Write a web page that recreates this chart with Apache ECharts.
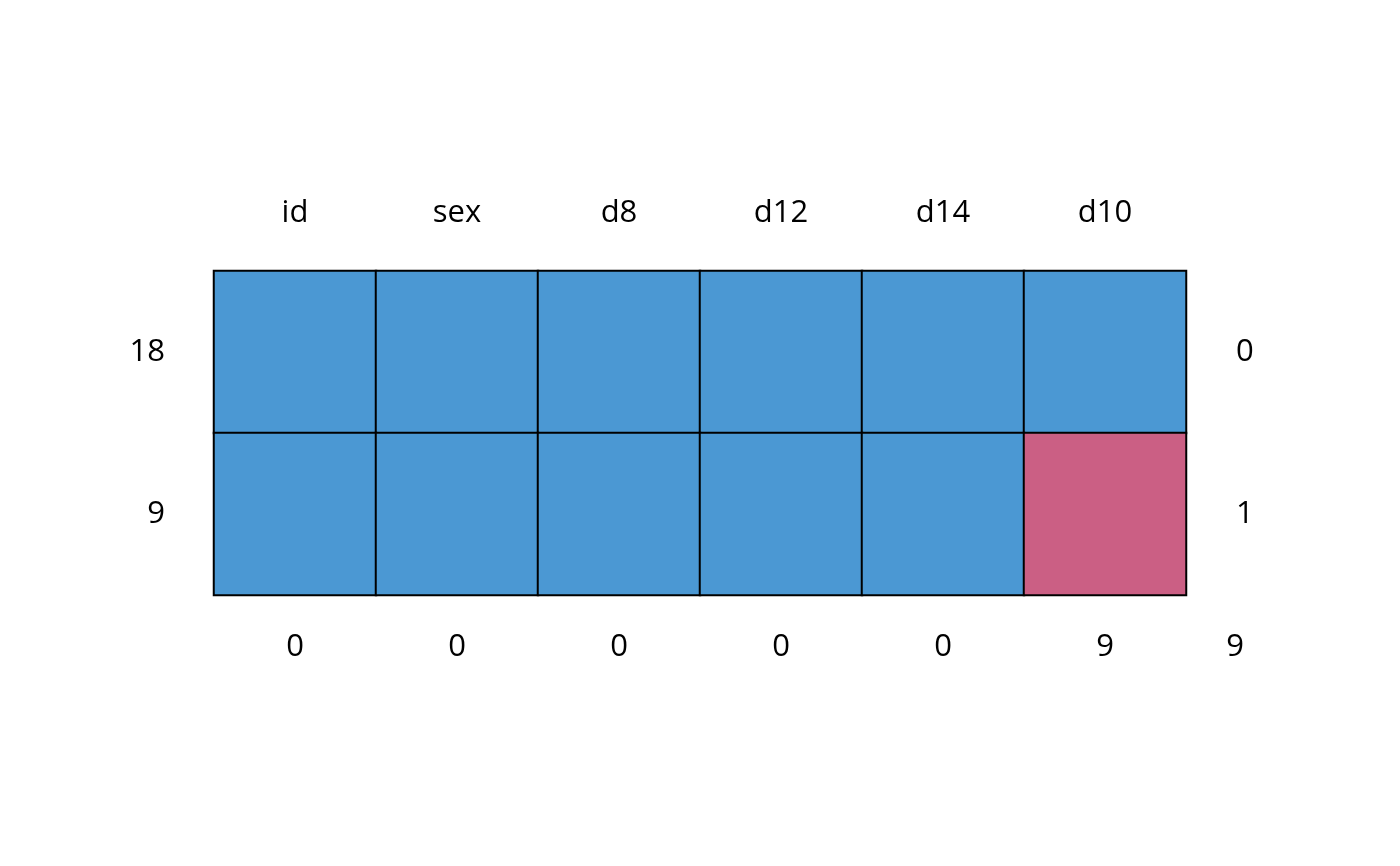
<!DOCTYPE html>
<html>
<head>
<meta charset="utf-8">
<script src="https://cdn.jsdelivr.net/npm/echarts@6/dist/echarts.min.js"></script>
<style>html,body{margin:0;padding:0;background:#fff;}#main{width:1400px;height:866px;}</style>
</head>
<body>
<div id="main"></div>
<script>
const variables = ['id', 'sex', 'd8', 'd12', 'd14', 'd10'];
const patternCounts = ['18', '9'];          // rows: number of cases with pattern
const missingPerPattern = ['0', '1'];       // right: number of missing vars in pattern
const missingPerVariable = ['0', '0', '0', '0', '0', '9']; // bottom
const totalMissing = '9';
// 1 = observed, 0 = missing
const patternRows = [
  [1, 1, 1, 1, 1, 1],
  [1, 1, 1, 1, 1, 0]
];

const FONT = 'Open Sans';
const FS = 31;
const cells = [];
patternRows.forEach((row, r) => row.forEach((v, c) => cells.push([c, r, v])));

const chart = echarts.init(document.getElementById('main'));
const gridLeft = 214, gridRight = 214, gridTop = 271, gridBottom = 271;
chart.setOption({
  backgroundColor: '#ffffff',
  animation: false,
  grid: { left: gridLeft, right: gridRight, top: gridTop, bottom: gridBottom },
  xAxis: [
    { type: 'category', data: variables, position: 'top',
      axisLine: { show: false }, axisTick: { show: false }, splitLine: { show: false },
      axisLabel: { fontFamily: FONT, fontSize: FS, color: '#000', margin: 42 } },
    { type: 'category', data: missingPerVariable, position: 'bottom',
      axisLine: { show: false }, axisTick: { show: false }, splitLine: { show: false },
      axisLabel: { fontFamily: FONT, fontSize: FS, color: '#000', margin: 37 } }
  ],
  yAxis: [
    { type: 'category', data: patternCounts, position: 'left', inverse: true,
      axisLine: { show: false }, axisTick: { show: false }, splitLine: { show: false },
      axisLabel: { fontFamily: FONT, fontSize: FS, color: '#000', margin: 49, padding: [4, 0, 0, 0] } },
    { type: 'category', data: missingPerPattern, position: 'right', inverse: true,
      axisLine: { show: false }, axisTick: { show: false }, splitLine: { show: false },
      axisLabel: { fontFamily: FONT, fontSize: FS, color: '#000', margin: 50, padding: [4, 0, 0, 0] } }
  ],
  visualMap: {
    show: false, type: 'piecewise', dimension: 2, seriesIndex: 0,
    pieces: [ { value: 1, color: '#4B98D3' }, { value: 0, color: '#CB5F84' } ]
  },
  series: [{
    type: 'heatmap', xAxisIndex: 0, yAxisIndex: 0, data: cells,
    itemStyle: { borderColor: '#000', borderWidth: 2 },
    emphasis: { disabled: true }
  }]
});

chart.setOption({
  graphic: [{
    type: 'text', x: 1400 - gridRight + 49, y: 866 - gridBottom + 37,
    style: { text: totalMissing, fontFamily: FONT, fontSize: FS, fill: '#000',
      textAlign: 'center', textVerticalAlign: 'top' }
  }]
});
</script>
</body>
</html>
